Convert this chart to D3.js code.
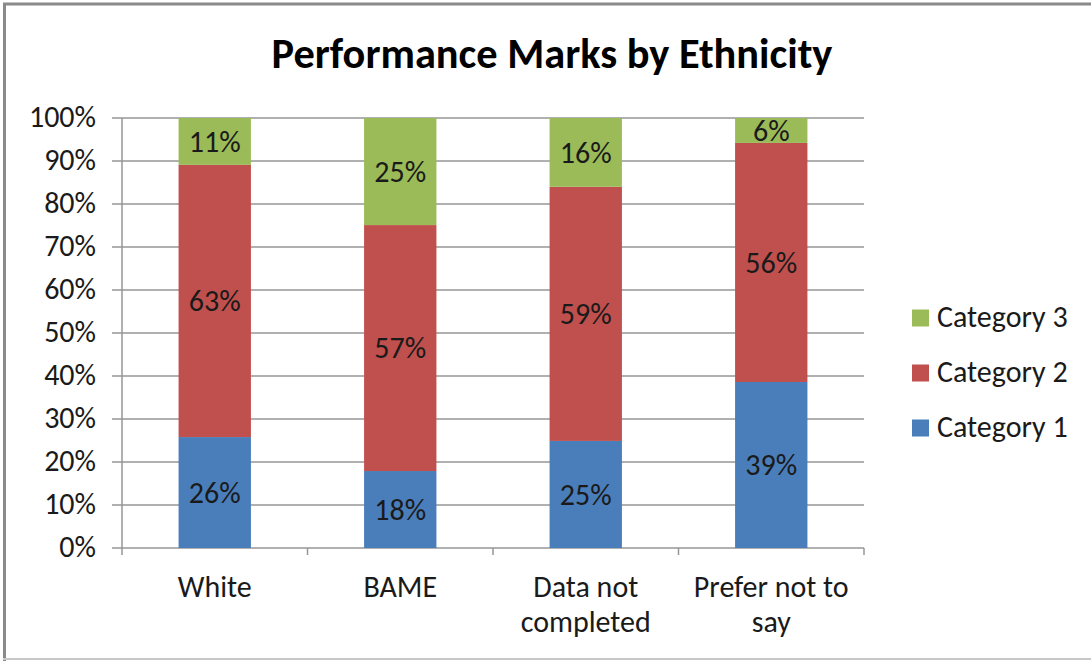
<!DOCTYPE html>
<html><head><meta charset="utf-8">
<script src="https://cdn.jsdelivr.net/npm/d3@7/dist/d3.min.js"></script>
<style>
body{margin:0;background:#fff;}
svg{display:block;font-family:Carlito, Lato, "Open Sans", sans-serif;}
</style></head>
<body><svg id="c" width="1091" height="661"></svg>
<script>
const categories = ["White", "BAME", "Data not completed", "Prefer not to say"];
const categoryLines = [["White"], ["BAME"], ["Data not", "completed"], ["Prefer not to", "say"]];
const seriesNames = ["Category 1", "Category 2", "Category 3"];
const category1 = [25.8, 17.9, 24.9, 38.6];
const category2 = [63.3, 57.2, 59.1, 55.6];
const category3 = [10.9, 24.9, 16.0, 5.8];
const yTicks = [0, 10, 20, 30, 40, 50, 60, 70, 80, 90, 100];
const colors = ["#4A7EBB", "#C0504D", "#9BBB59"];
const title = "Performance Marks by Ethnicity";

const FS = 30;
const svg = d3.select("#c");
// border
svg.append("line").attr("x1",3).attr("x2",1091).attr("y1",4).attr("y2",4).attr("stroke","#8a8a8a").attr("stroke-width",3);
svg.append("line").attr("x1",4.5).attr("x2",4.5).attr("y1",3).attr("y2",661).attr("stroke","#8a8a8a").attr("stroke-width",3);
svg.append("line").attr("x1",3).attr("x2",1091).attr("y1",659).attr("y2",659).attr("stroke","#c8c8c8").attr("stroke-width",2);

const x = d3.scaleBand().domain(categories).range([122, 864]).paddingInner(0.61).paddingOuter(0.305);
const y = d3.scaleLinear().domain([0, 100]).range([548, 118]);

// gridlines
svg.append("g").selectAll("line").data(yTicks).join("line")
  .attr("x1", 112).attr("x2", 864)
  .attr("y1", d => y(d)).attr("y2", d => y(d))
  .attr("stroke", "#969696").attr("stroke-width", 1.5);

// y axis line
svg.append("line").attr("x1",122).attr("x2",122).attr("y1",y(100)).attr("y2",y(0)).attr("stroke","#969696").attr("stroke-width",1.5);
// x axis ticks
const bounds = d3.range(categories.length + 1).map(i => 122 + i * (864 - 122) / categories.length);
svg.append("g").selectAll("line").data(bounds).join("line")
  .attr("x1", d => d).attr("x2", d => d).attr("y1", 548).attr("y2", 555)
  .attr("stroke", "#969696").attr("stroke-width", 1.5);

// y tick labels
svg.append("g").selectAll("text").data(yTicks).join("text")
  .attr("x", 96).attr("y", d => y(d)).attr("dy", "0.3em")
  .attr("text-anchor", "end").attr("font-size", FS).attr("fill", "#1a1a1a")
  .text(d => d + "%");

// stacked bars
const rows = categories.map((c, i) => ({cat: c, s0: category1[i], s1: category2[i], s2: category3[i]}));
const stack = d3.stack().keys(["s0", "s1", "s2"])(rows);
const g = svg.append("g");
stack.forEach((layer, li) => {
  g.selectAll(null).data(layer).join("rect")
    .attr("x", d => x(d.data.cat)).attr("width", x.bandwidth())
    .attr("y", d => y(d[1])).attr("height", d => y(d[0]) - y(d[1]))
    .attr("fill", colors[li]);
  g.selectAll(null).data(layer).join("text")
    .attr("x", d => x(d.data.cat) + x.bandwidth() / 2)
    .attr("y", d => (y(d[0]) + y(d[1])) / 2).attr("dy", "0.34em")
    .attr("text-anchor", "middle").attr("font-size", FS).attr("fill", "#1a1a1a")
    .text(d => Math.round(d[1] - d[0]) + "%");
});

// category labels
categoryLines.forEach((lines, i) => {
  const cx = x(categories[i]) + x.bandwidth() / 2;
  lines.forEach((ln, j) => {
    svg.append("text").attr("x", cx).attr("y", 597 + j * 35)
      .attr("text-anchor", "middle").attr("font-size", FS).attr("fill", "#1a1a1a").text(ln);
  });
});

// title
const t = svg.append("text").attr("x", 552).attr("y", 68).attr("text-anchor", "middle")
  .attr("font-size", 33).attr("font-weight", "bold").attr("fill", "#000").text(title);
const tw = t.node().getComputedTextLength();
t.attr("font-size", 33 * 561 / tw);

// legend
const legendOrder = [2, 1, 0];
legendOrder.forEach((si, k) => {
  const cy = 318 + k * 55;
  svg.append("rect").attr("x", 912).attr("y", cy - 8.5).attr("width", 17).attr("height", 17).attr("fill", colors[si]);
  svg.append("text").attr("x", 937).attr("y", cy).attr("dy", "0.3em").attr("font-size", FS).attr("fill", "#1a1a1a").text(seriesNames[si]);
});
</script></body></html>
